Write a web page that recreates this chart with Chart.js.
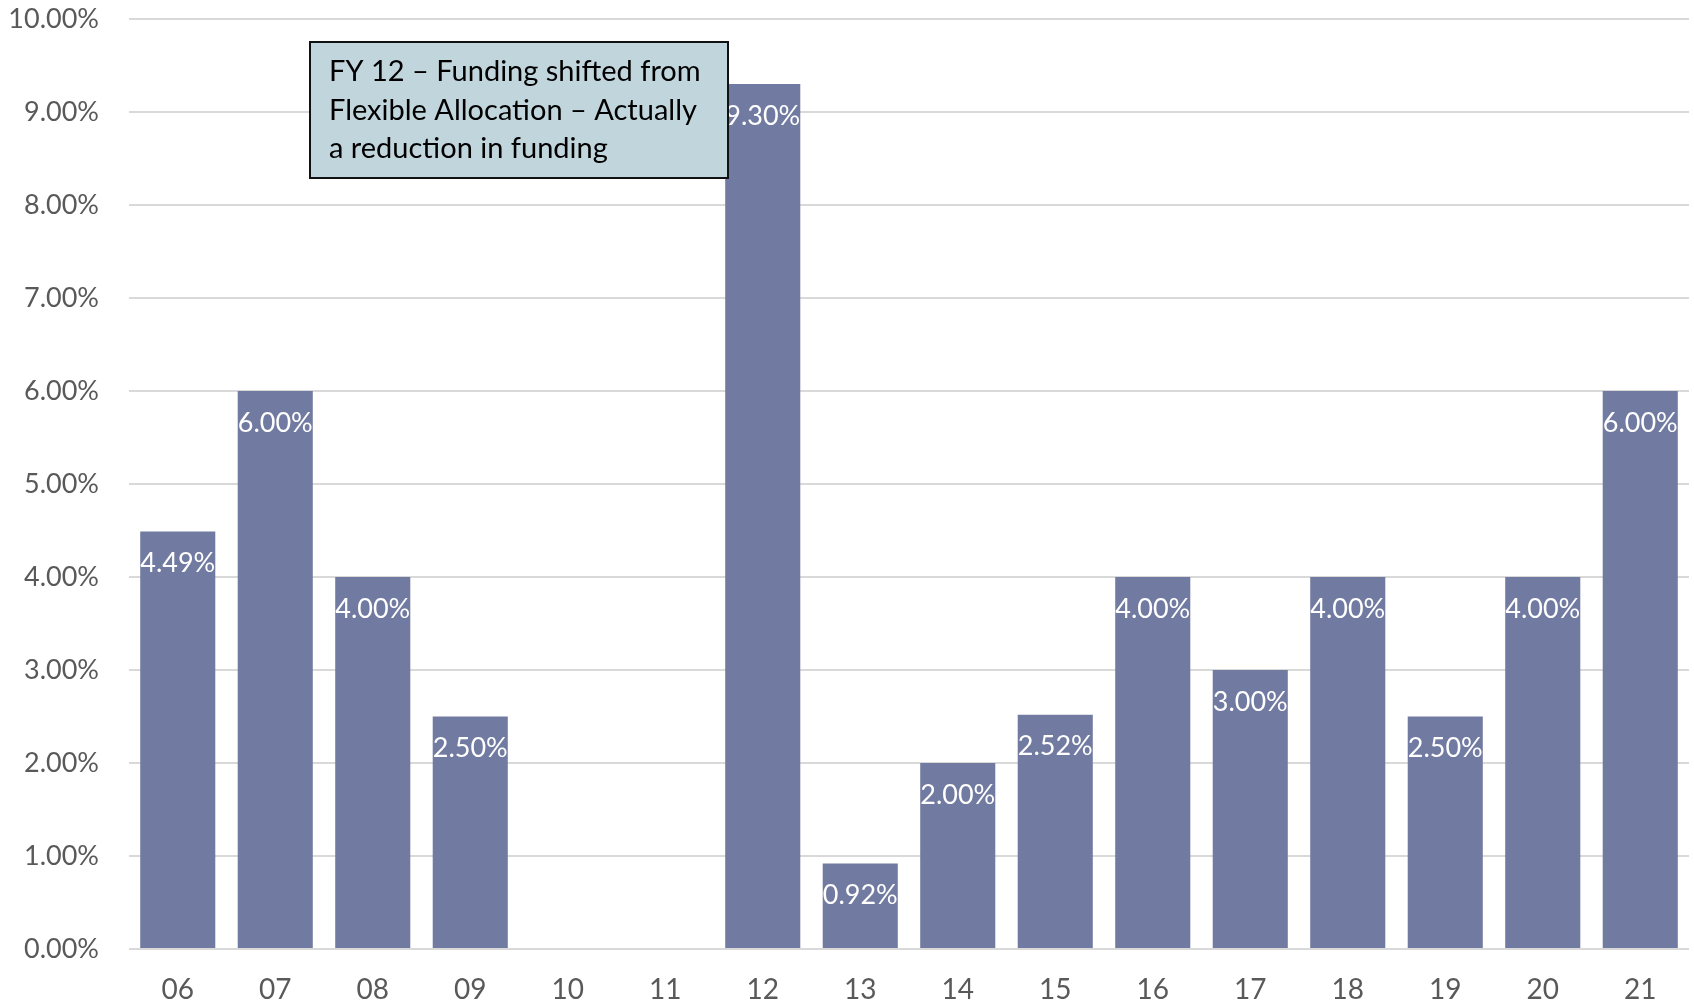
<!DOCTYPE html>
<html>
<head>
<meta charset="utf-8">
<script src="https://cdn.jsdelivr.net/npm/chart.js@4/dist/chart.umd.min.js"></script>
<style>
  html, body { margin: 0; padding: 0; background: #ffffff; }
  #wrap { width: 1694px; height: 1004px; position: relative; }
</style>
</head>
<body>
<div id="wrap"><canvas id="chart" width="1694" height="1004"></canvas></div>
<script>
// Fiscal years (two-digit) along the category axis
const fiscalYears = ['06', '07', '08', '09', '10', '11', '12', '13', '14', '15', '16', '17', '18', '19', '20', '21'];
// Funding increase per year, in percent (no increase in FY10 and FY11)
const fundingIncrease = [4.49, 6.00, 4.00, 2.50, null, null, 9.30, 0.92, 2.00, 2.52, 4.00, 3.00, 4.00, 2.50, 4.00, 6.00];
// Value axis range
const axisMin = 0;
const axisMax = 10;
const axisStep = 1;
// Call-out text
const noteLines = [
  'FY 12 \u2013 Funding shifted from',
  'Flexible Allocation \u2013 Actually',
  'a reduction in funding'
];

const FONT = 'Lato, "Open Sans", sans-serif';
const fmtPct = v => Number(v).toFixed(2) + '%';

// White value labels just inside the top of each bar
const barValueLabels = {
  id: 'barValueLabels',
  afterDatasetsDraw(chart) {
    const ctx = chart.ctx;
    const meta = chart.getDatasetMeta(0);
    const data = chart.data.datasets[0].data;
    ctx.save();
    ctx.fillStyle = '#ffffff';
    ctx.font = '27px ' + FONT;
    ctx.textAlign = 'center';
    ctx.textBaseline = 'middle';
    meta.data.forEach((bar, i) => {
      if (data[i] === null || data[i] === undefined) return;
      ctx.fillText(fmtPct(data[i]), bar.x, bar.y + 32);
    });
    ctx.restore();
  }
};

// Boxed note in the upper-left of the plot
const noteBox = {
  id: 'noteBox',
  afterDraw(chart) {
    const ctx = chart.ctx;
    const a = chart.chartArea;
    const x = a.left + 181, y = a.top + 23, w = 418, h = 136;
    ctx.save();
    ctx.fillStyle = '#c1d5dc';
    ctx.fillRect(x, y, w, h);
    ctx.strokeStyle = '#111111';
    ctx.lineWidth = 2;
    ctx.strokeRect(x, y, w, h);
    ctx.fillStyle = '#000000';
    ctx.font = '29px ' + FONT;
    ctx.textAlign = 'left';
    ctx.textBaseline = 'middle';
    noteLines.forEach((line, i) => {
      ctx.fillText(line, x + 19, y + 30 + i * 38.5);
    });
    ctx.restore();
  }
};

new Chart(document.getElementById('chart'), {
  type: 'bar',
  data: {
    labels: fiscalYears,
    datasets: [{
      data: fundingIncrease,
      backgroundColor: '#717aa0',
      borderWidth: 0,
      categoryPercentage: 1.0,
      barPercentage: 0.77
    }]
  },
  options: {
    responsive: false,
    animation: false,
    layout: { padding: { top: 19, right: 5, left: 0, bottom: 0 } },
    plugins: {
      legend: { display: false },
      tooltip: { enabled: false }
    },
    scales: {
      x: {
        grid: { display: false },
        border: { display: false },
        ticks: {
          color: '#595959',
          font: { family: FONT, size: 28 },
          padding: 16,
          maxRotation: 0
        },
        afterFit(scale) { scale.height = 55; }
      },
      y: {
        min: axisMin,
        max: axisMax,
        grid: {
          color: '#d9d9d9',
          lineWidth: 2,
          drawTicks: true,
          tickLength: 30,
          tickColor: 'rgba(0,0,0,0)'
        },
        border: { display: false },
        ticks: {
          stepSize: axisStep,
          color: '#595959',
          font: { family: FONT, size: 27 },
          padding: 0,
          callback: v => fmtPct(v)
        },
        afterFit(scale) { scale.width = 129; }
      }
    }
  },
  plugins: [barValueLabels, noteBox]
});
</script>
</body>
</html>
